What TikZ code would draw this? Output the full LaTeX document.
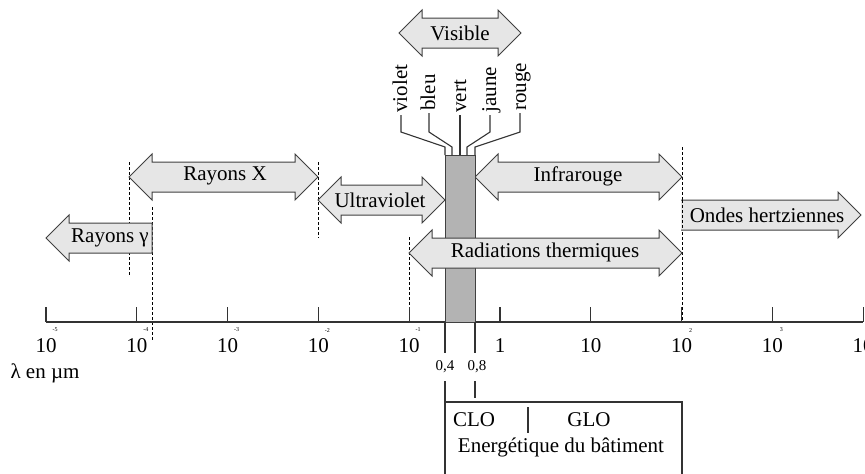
\documentclass[tikz,border=0pt]{standalone}
\usepackage{fontspec}
\setmainfont{Liberation Serif}
\definecolor{arrfill}{HTML}{E6E6E6}
\definecolor{arrline}{HTML}{404040}
\definecolor{barfill}{HTML}{B3B3B3}
\newcommand{\dblarrow}[3]{%
  \draw[arr] (#1,#3) -- (#1+23,#3-23) -- (#1+23,#3-15) -- (#2-23,#3-15) -- (#2-23,#3-23)
    -- (#2,#3) -- (#2-23,#3+23) -- (#2-23,#3+15) -- (#1+23,#3+15) -- (#1+23,#3+23) -- cycle;}
\begin{document}
\begin{tikzpicture}[x=0.5pt,y=-0.5pt,
  font=\fontsize{10.5}{12}\selectfont,
  arr/.style={draw=arrline, fill=arrfill, line width=0.5pt, line join=miter},
  vdash/.style={draw=black, line width=0.45pt, dash pattern=on 1.5pt off 1pt},
  ln/.style={draw=black!80, line width=0.55pt},
  expo/.style={font=\fontsize{3}{3}\selectfont, inner sep=0pt},
  lbl/.style={inner sep=0pt},
  colname/.style={rotate=90, anchor=west, inner sep=1pt, text height=6pt, text depth=0pt},
  small/.style={font=\fontsize{7.5}{8}\selectfont, inner sep=0pt}]
\useasboundingbox (0,0) rectangle (865,473);

% dashed limits
\draw[vdash] (129,162) -- (129,275);
\draw[vdash] (152,207) -- (152,342);
\draw[vdash] (318,162) -- (318,238);
\draw[vdash] (409,237) -- (409,322);
\draw[vdash] (682,147) -- (682,322);

% axis
\draw[ln] (46,322) -- (863,322);
\foreach \k/\e in {-5/-5,-4/-4,-3/-3,-2/-2,-1/-1,1/,2/2,3/3,4/} {
  \pgfmathsetmacro{\xx}{46+90.8*(\k+5)}
  \draw[ln] (\xx,307) -- (\xx,322);
  \node[lbl] (t\k) at (\xx,346) {10};
  \node[expo] (e\k) at (\xx+9,330) {\e};
}
\draw[ln] (500,307) -- (500,322);
\node[lbl] (t0) at (500,346) {1};
\node[lbl] (lambda) at (45,373) {λ en µm};

% spectral domains
\dblarrow{399}{521}{33}
\node[lbl] (visible) at (460,33) {Visible};
\dblarrow{129}{318}{177}
\node[lbl] (rx) at (225,176) {Rayons X};
\dblarrow{318}{445}{200}
\node[lbl] (uv) at (380,200) {Ultraviolet};
\draw[arr] (46,238) -- (69,215) -- (69,223) -- (152,223) -- (152,253) -- (69,253) -- (69,261) -- cycle;
\node[lbl] (gamma) at (110,238) {Rayons γ};
\dblarrow{475}{682}{177}
\node[lbl] (ir) at (578,176) {Infrarouge};
\fill[arrfill] (681,200) -- (838,200) -- (838,192) -- (861,215) -- (838,238) -- (838,230) -- (681,230) -- cycle;
\draw[arr, fill=none] (681,200) -- (838,200) -- (838,192) -- (861,215) -- (838,238) -- (838,230) -- (681,230);
\draw[vdash] (682,200) -- (682,230);
\node[lbl] (hz) at (767,215) {Ondes hertziennes};

% visible bar
\draw[draw=arrline, fill=barfill, line width=0.5pt] (445,155) rectangle (475,322);
\coordinate (cv) at (445,155);
\coordinate (cb) at (452,155);
\coordinate (cg) at (460,155);
\coordinate (cj) at (467,155);
\coordinate (cr) at (475,155);

% thermal radiation arrow lies over the bar
\dblarrow{409}{682}{253}
\node[lbl] (rth) at (545,252) {Radiations thermiques};

\node[colname] (violet) at (401,115) {violet};
\node[colname] (bleu) at (429,113) {bleu};
\node[colname] (vert) at (460,115) {vert};
\node[colname] (jaune) at (490,115) {jaune};
\node[colname] (rouge) at (520,113) {rouge};
\draw[ln] (violet.west) -- (401,132) -- (445,147) -- (cv);
\draw[ln] (bleu.west) -- (429,132) -- (452,147) -- (cb);
\draw[ln] (vert.west) -- (cg);
\draw[ln] (jaune.west) -- (490,132) -- (467,147) -- (cj);
\draw[ln] (rouge.west) -- (520,132) -- (475,147) -- (cr);

% 0,4 / 0,8 and box
\node[small] (v04) at (445,367) {0,4};
\node[small] (v08) at (477,367) {0,8};
\draw[ln] (445,322) -- (445,353);
\draw[ln] (475,322) -- (475,353);
\draw[ln] (445,381) -- (445,480);
\draw[ln] (475,381) -- (475,398);
\draw[ln] (445,402) -- (682,402) -- (682,480);
\node[lbl] (clo) at (474,420) {CLO};
\node[lbl] (glo) at (589,420) {GLO};
\draw[ln] (528,407) -- (528,433);
\node[lbl] (batiment) at (561,447) {Energétique du bâtiment};
\end{tikzpicture}
\end{document}
